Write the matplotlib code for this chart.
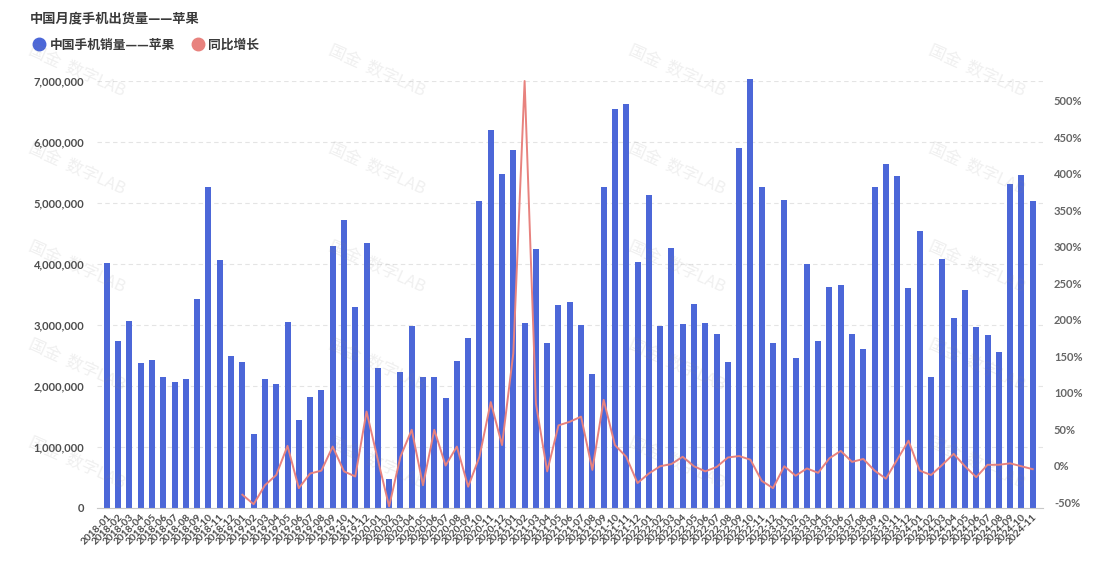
import numpy as np
import matplotlib
matplotlib.use('Agg')
from matplotlib import pyplot as plt
from matplotlib.lines import Line2D
from matplotlib.ticker import FuncFormatter, MultipleLocator

plt.rcParams['font.family'] = ['Lato', 'Noto Sans CJK SC', 'DejaVu Sans']

# month labels, 2018-01 .. 2024-11
months = ['{}-{:02d}'.format(y, m) for y in range(2018, 2025) for m in range(1, 13)][:83]

# monthly shipments, millions of units
sales_m = [4.01, 2.73, 3.07, 2.37, 2.43, 2.15, 2.07, 2.11, 3.43, 5.26, 4.06, 2.50,
           2.40, 1.21, 2.11, 2.04, 3.05, 1.44, 1.82, 1.93, 4.30, 4.72, 3.30, 4.34,
           2.30, 0.47, 2.23, 2.99, 2.15, 2.14, 1.81, 2.41, 2.78, 5.03, 6.20, 5.48,
           5.87, 3.04, 4.24, 2.71, 3.33, 3.37, 3.00, 2.20, 5.26, 6.54, 6.62, 4.04,
           5.13, 2.99, 4.27, 3.02, 3.35, 3.04, 2.86, 2.40, 5.91, 7.03, 5.26, 2.71,
           5.05, 2.46, 4.00, 2.73, 3.62, 3.65, 2.86, 2.60, 5.26, 5.64, 5.44, 3.60,
           4.54, 2.14, 4.09, 3.12, 3.58, 2.97, 2.84, 2.55, 5.31, 5.46, 5.03]

# year-over-year growth in %, starts 2019-01
yoy = [None] * 12 + [
    -40, -53, -27, -13, 27, -31, -11, -7, 26, -8, -15, 74,
    8, -56, 12, 49, -27, 49, 0, 26, -29, 12, 87, 28,
    154, 527, 85, -8, 55, 60, 67, -6, 90, 28, 12, -24,
    -11, -1, 2, 12, -1, -8, -2, 11, 13, 8, -21, -31,
    -1, -14, -4, -10, 10, 20, 5, 9, -7, -18, 8, 34,
    -7, -13, 1, 16, -1, -16, 1, 1, 3, -1, -5]

BLUE = '#4c67d8'
RED = '#e8827e'
CJK = ['Noto Sans CJK SC', 'DejaVu Sans']

sales = np.array(sales_m) * 1e6
growth = np.array([np.nan if v is None else v for v in yoy], dtype=float)
x = np.arange(len(months))

fig = plt.figure(figsize=(11.04, 5.63), dpi=100)
ax = fig.add_axes([0.0876, 0.0977, 0.857, 0.7584])
ax2 = ax.twinx()

ax.bar(x, sales, width=0.53, color=BLUE, zorder=2, clip_on=False)
ax2.plot(x, growth, color=RED, lw=1.4, zorder=3, clip_on=False)

ax.set_xlim(-0.9, len(months) - 0.1)
ax.set_ylim(0, 7e6)
ax.yaxis.set_major_locator(MultipleLocator(1e6))
ax.yaxis.set_major_formatter(FuncFormatter(lambda v, p: '{:,.0f}'.format(v)))
ax2.set_ylim(-58.2, 527)
ax2.yaxis.set_major_locator(MultipleLocator(50))
ax2.yaxis.set_major_formatter(FuncFormatter(lambda v, p: '{:.0f}%'.format(v)))

ax.grid(axis='y', color='#e4e4e4', ls=(0, (4, 3)), lw=0.8, zorder=0)
ax.set_axisbelow(True)
for a in (ax, ax2):
    for s in ('top', 'left', 'right', 'bottom'):
        a.spines[s].set_visible(False)
ax.spines['bottom'].set_visible(True)
ax.spines['bottom'].set_color('#c8c8c8')

ax.tick_params(axis='y', length=0, pad=9, labelsize=8, labelcolor='#4d4d4d')
ax2.tick_params(axis='y', length=0, pad=8, labelsize=8, labelcolor='#666666')
for lab in ax.get_yticklabels() + ax2.get_yticklabels():
    lab.set_fontweight('bold')

ax.set_xticks(x)
ax.set_xticklabels(months, rotation=45, ha='right', rotation_mode='anchor',
                   fontsize=7.3, color='#4a4a4a', fontweight='bold')
ax.tick_params(axis='x', length=0, pad=3)

# title and legend
fig.text(0.027, 0.968, '中国月度手机出货量——苹果', fontsize=9.5, color='#3a3a3a',
         fontweight='bold', va='center', family=CJK)
handles = [Line2D([], [], marker='o', ls='', color=BLUE, markersize=9),
           Line2D([], [], marker='o', ls='', color=RED, markersize=9)]
fig.legend(handles, ['中国手机销量——苹果', '同比增长'], loc='center left',
           bbox_to_anchor=(0.024, 0.92), ncol=2, frameon=False, handletextpad=0.2,
           columnspacing=1.2, borderaxespad=0, handlelength=1.2,
           prop={'family': CJK, 'size': 9.2, 'weight': 'bold'})
for t in fig.legends[0].get_texts():
    t.set_color('#3a3a3a')

# faint watermark tiles
for wx in (77, 377, 677, 977):
    for wy in (70, 168, 266, 364, 462):
        fig.text(wx / 1104, 1 - wy / 563, '国金  数字LAB', rotation=-24, fontsize=12,
                 color='#888888', alpha=0.13, ha='center', va='center', zorder=10,
                 family=CJK)

fig.savefig('out.png', dpi=100)
